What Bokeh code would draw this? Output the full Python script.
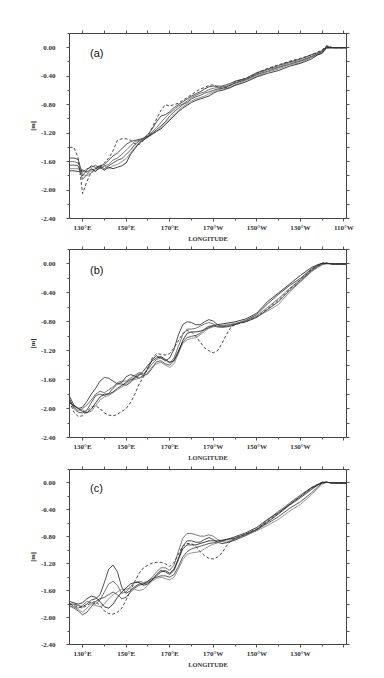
from bokeh.plotting import figure
from bokeh.layouts import column
from bokeh.models import FixedTicker, LinearAxis, Range1d, Label
from bokeh.embed import file_html
from bokeh.resources import INLINE

LON = [124, 126, 128, 130, 132, 134, 136, 138, 140, 142, 144, 146, 148, 150, 152, 154, 156, 158,
       160, 162, 164, 166, 168, 170, 172, 174, 176, 178, 180, 182, 184, 186, 188, 190, 192, 194,
       196, 198, 200, 205, 210, 215, 220, 225, 230, 235, 238, 240, 242, 245, 251]

X_MAJOR = [130, 150, 170, 190, 210, 230, 250]
X_MINOR = [140, 160, 180, 200, 220, 240]
X_LABELS_A = ["130°E", "150°E", "170°E", "170°W", "150°W", "130°W", "110°W"]
X_LABELS_BC = ["130°E", "150°E", "170°E", "170°W", "150°W", "130°W", ""]
Y_MAJOR = [0.0, -0.4, -0.8, -1.2, -1.6, -2.0, -2.4]
Y_LABELS = ["0.00", "-0.40", "-0.80", "-1.20", "-1.60", "-2.00", "-2.40"]
Y_MINOR = [0.2, -0.2, -0.6, -1.0, -1.4, -1.8, -2.2]

# ---------- panel (a) ----------
A1 = [-1.55, -1.55, -1.57, -1.80, -1.72, -1.66, -1.68, -1.66, -1.64, -1.58, -1.52, -1.48, -1.42, -1.36, -1.32, -1.30, -1.29, -1.27,
      -1.22, -1.14, -1.04, -0.96, -0.94, -0.90, -0.84, -0.80, -0.76, -0.72, -0.68, -0.65, -0.62, -0.58, -0.55, -0.54, -0.54, -0.54,
      -0.52, -0.50, -0.47, -0.43, -0.35, -0.30, -0.25, -0.20, -0.16, -0.10, -0.07, -0.04, 0.01, 0.0, 0.0]
A2 = [-1.60, -1.60, -1.62, -1.75, -1.70, -1.68, -1.65, -1.70, -1.66, -1.64, -1.58, -1.55, -1.50, -1.44, -1.38, -1.32, -1.30, -1.27,
      -1.24, -1.18, -1.12, -1.05, -0.98, -0.92, -0.87, -0.82, -0.79, -0.75, -0.70, -0.67, -0.64, -0.62, -0.59, -0.57, -0.56, -0.55,
      -0.54, -0.52, -0.49, -0.44, -0.37, -0.31, -0.27, -0.21, -0.18, -0.12, -0.08, -0.05, 0.0, 0.0, 0.0]
A3 = [-1.65, -1.65, -1.66, -1.85, -1.78, -1.72, -1.70, -1.66, -1.70, -1.66, -1.62, -1.58, -1.56, -1.50, -1.44, -1.36, -1.31, -1.28,
      -1.25, -1.20, -1.15, -1.10, -1.04, -0.96, -0.90, -0.85, -0.80, -0.77, -0.72, -0.69, -0.67, -0.64, -0.62, -0.60, -0.58, -0.57,
      -0.55, -0.53, -0.50, -0.45, -0.38, -0.33, -0.28, -0.23, -0.19, -0.13, -0.09, -0.06, 0.02, 0.0, 0.0]
A4 = [-1.70, -1.70, -1.70, -1.78, -1.80, -1.76, -1.72, -1.70, -1.66, -1.70, -1.66, -1.64, -1.60, -1.56, -1.48, -1.40, -1.33, -1.29,
      -1.26, -1.22, -1.18, -1.12, -1.06, -1.00, -0.94, -0.88, -0.83, -0.79, -0.75, -0.72, -0.70, -0.68, -0.65, -0.62, -0.59, -0.58,
      -0.57, -0.55, -0.52, -0.46, -0.40, -0.34, -0.30, -0.24, -0.21, -0.14, -0.10, -0.07, -0.01, 0.0, 0.0]
A5 = [-1.73, -1.73, -1.74, -1.72, -1.75, -1.70, -1.74, -1.68, -1.72, -1.68, -1.70, -1.68, -1.66, -1.62, -1.50, -1.42, -1.34, -1.30,
      -1.25, -1.21, -1.17, -1.14, -1.08, -1.02, -0.96, -0.90, -0.85, -0.81, -0.77, -0.74, -0.72, -0.70, -0.68, -0.64, -0.61, -0.60,
      -0.58, -0.56, -0.53, -0.48, -0.41, -0.36, -0.32, -0.26, -0.22, -0.16, -0.10, -0.08, 0.0, 0.0, 0.0]
AD = [-1.40, -1.40, -1.55, -2.05, -1.88, -1.75, -1.70, -1.68, -1.62, -1.55, -1.45, -1.30, -1.28, -1.28, -1.30, -1.35, -1.36, -1.30,
      -1.24, -1.12, -1.00, -0.88, -0.80, -0.82, -0.80, -0.78, -0.74, -0.70, -0.66, -0.62, -0.58, -0.56, -0.53, -0.52, -0.55, -0.57,
      -0.56, -0.52, -0.48, -0.43, -0.36, -0.29, -0.24, -0.19, -0.15, -0.10, -0.06, -0.03, 0.03, 0.0, 0.0]

# ---------- panel (b) ----------
B1 = [-1.83, -1.95, -2.00, -1.98, -1.90, -1.80, -1.72, -1.62, -1.57, -1.58, -1.62, -1.66, -1.64, -1.56, -1.53, -1.55, -1.58, -1.54,
      -1.44, -1.32, -1.27, -1.30, -1.34, -1.30, -1.18, -0.98, -0.84, -0.80, -0.81, -0.84, -0.84, -0.80, -0.77, -0.79, -0.84, -0.86,
      -0.87, -0.86, -0.84, -0.78, -0.70, -0.55, -0.42, -0.30, -0.20, -0.07, -0.02, 0.01, 0.01, 0.0, 0.0]
B2 = [-1.86, -1.98, -2.03, -2.00, -1.95, -1.88, -1.80, -1.76, -1.78, -1.74, -1.70, -1.64, -1.62, -1.62, -1.58, -1.54, -1.50, -1.52,
      -1.46, -1.38, -1.32, -1.30, -1.33, -1.37, -1.30, -1.14, -0.98, -0.90, -0.90, -0.89, -0.86, -0.83, -0.81, -0.83, -0.87, -0.88,
      -0.87, -0.85, -0.83, -0.79, -0.72, -0.60, -0.48, -0.34, -0.22, -0.09, -0.03, 0.0, 0.01, 0.0, 0.0]
B3 = [-1.88, -2.00, -2.05, -2.06, -2.02, -1.92, -1.82, -1.80, -1.82, -1.79, -1.72, -1.66, -1.66, -1.68, -1.64, -1.56, -1.52, -1.54,
      -1.52, -1.44, -1.35, -1.34, -1.38, -1.40, -1.33, -1.20, -1.08, -1.02, -1.00, -0.99, -0.96, -0.90, -0.86, -0.86, -0.87, -0.86,
      -0.85, -0.84, -0.83, -0.80, -0.74, -0.63, -0.52, -0.37, -0.24, -0.10, -0.04, -0.01, 0.01, 0.0, 0.0]
B4 = [-1.90, -1.97, -1.99, -2.02, -2.05, -2.04, -1.96, -1.88, -1.84, -1.82, -1.78, -1.74, -1.70, -1.66, -1.62, -1.60, -1.58, -1.56,
      -1.50, -1.42, -1.38, -1.36, -1.40, -1.43, -1.38, -1.24, -1.10, -1.05, -1.03, -1.02, -0.98, -0.93, -0.89, -0.87, -0.86, -0.85,
      -0.84, -0.83, -0.82, -0.78, -0.73, -0.65, -0.56, -0.39, -0.25, -0.11, -0.05, -0.01, 0.0, 0.0, 0.0]
B5 = [-1.92, -1.96, -2.00, -2.04, -2.06, -2.01, -1.92, -1.84, -1.80, -1.80, -1.77, -1.72, -1.68, -1.64, -1.60, -1.58, -1.54, -1.48,
      -1.40, -1.34, -1.30, -1.28, -1.32, -1.36, -1.34, -1.22, -1.06, -0.96, -0.94, -0.94, -0.93, -0.91, -0.88, -0.85, -0.84, -0.83,
      -0.82, -0.81, -0.80, -0.76, -0.68, -0.52, -0.40, -0.28, -0.16, -0.05, -0.01, 0.01, 0.01, 0.0, 0.0]
BD = [-1.90, -2.05, -2.11, -2.10, -2.04, -1.98, -1.96, -2.00, -2.06, -2.09, -2.10, -2.08, -2.04, -2.00, -1.92, -1.80, -1.66, -1.56,
      -1.44, -1.30, -1.24, -1.25, -1.26, -1.24, -1.16, -1.06, -0.96, -0.92, -0.94, -1.00, -1.08, -1.16, -1.20, -1.23, -1.20, -1.10,
      -0.98, -0.88, -0.84, -0.80, -0.73, -0.62, -0.50, -0.35, -0.22, -0.08, -0.02, 0.01, 0.01, 0.0, 0.0]

# ---------- panel (c) ----------
C1 = [-1.80, -1.80, -1.82, -1.84, -1.80, -1.74, -1.72, -1.66, -1.48, -1.28, -1.22, -1.32, -1.55, -1.64, -1.60, -1.54, -1.50, -1.50,
      -1.48, -1.44, -1.38, -1.32, -1.30, -1.34, -1.28, -1.12, -0.94, -0.86, -0.86, -0.88, -0.88, -0.84, -0.81, -0.84, -0.88, -0.90,
      -0.89, -0.87, -0.85, -0.78, -0.70, -0.58, -0.46, -0.33, -0.22, -0.10, -0.03, 0.01, 0.01, 0.0, 0.0]
C2 = [-1.78, -1.84, -1.86, -1.82, -1.76, -1.78, -1.80, -1.74, -1.62, -1.50, -1.46, -1.52, -1.64, -1.62, -1.54, -1.48, -1.46, -1.48,
      -1.46, -1.40, -1.32, -1.26, -1.26, -1.30, -1.22, -1.02, -0.82, -0.75, -0.75, -0.77, -0.79, -0.79, -0.77, -0.79, -0.84, -0.87,
      -0.88, -0.86, -0.84, -0.77, -0.69, -0.55, -0.42, -0.30, -0.18, -0.07, -0.02, 0.01, 0.01, 0.0, 0.0]
C3 = [-1.82, -1.86, -1.90, -1.96, -1.92, -1.84, -1.76, -1.72, -1.70, -1.66, -1.62, -1.66, -1.72, -1.70, -1.62, -1.56, -1.52, -1.50,
      -1.46, -1.42, -1.40, -1.38, -1.38, -1.40, -1.36, -1.24, -1.10, -1.02, -0.98, -0.96, -0.94, -0.92, -0.90, -0.89, -0.88, -0.86,
      -0.84, -0.83, -0.82, -0.76, -0.69, -0.60, -0.50, -0.38, -0.28, -0.15, -0.06, 0.0, 0.01, 0.0, 0.0]
C4 = [-1.84, -1.84, -1.88, -1.92, -1.86, -1.80, -1.82, -1.84, -1.80, -1.72, -1.66, -1.62, -1.58, -1.58, -1.56, -1.58, -1.60, -1.58,
      -1.52, -1.46, -1.42, -1.40, -1.42, -1.44, -1.40, -1.28, -1.14, -1.06, -1.04, -1.03, -1.02, -0.98, -0.94, -0.91, -0.89, -0.87,
      -0.85, -0.84, -0.83, -0.78, -0.71, -0.63, -0.54, -0.42, -0.32, -0.18, -0.08, -0.02, 0.01, 0.0, 0.0]
C5 = [-1.76, -1.78, -1.80, -1.78, -1.72, -1.68, -1.70, -1.76, -1.84, -1.86, -1.80, -1.70, -1.62, -1.56, -1.50, -1.48, -1.48, -1.52,
      -1.50, -1.44, -1.36, -1.30, -1.32, -1.36, -1.30, -1.14, -0.98, -0.92, -0.92, -0.92, -0.90, -0.88, -0.86, -0.86, -0.86, -0.85,
      -0.84, -0.82, -0.80, -0.74, -0.66, -0.54, -0.44, -0.32, -0.20, -0.08, -0.03, 0.0, 0.01, 0.0, 0.0]
CD = [-1.80, -1.82, -1.84, -1.86, -1.82, -1.78, -1.76, -1.82, -1.90, -1.94, -1.95, -1.92, -1.86, -1.74, -1.60, -1.46, -1.34, -1.26,
      -1.22, -1.19, -1.18, -1.18, -1.20, -1.24, -1.18, -1.06, -0.94, -0.90, -0.90, -0.94, -1.02, -1.08, -1.12, -1.13, -1.10, -1.04,
      -0.94, -0.86, -0.82, -0.76, -0.68, -0.57, -0.45, -0.32, -0.20, -0.07, -0.02, 0.01, 0.01, 0.0, 0.0]

PANELS = [
    ("(a)", [A1, A2, A3, A4, A5], AD, X_LABELS_A),
    ("(b)", [B1, B2, B3, B4, B5], BD, X_LABELS_BC),
    ("(c)", [C1, C2, C3, C4, C5], CD, X_LABELS_BC),
]
SOLID_COLORS = ["#222222", "#555555", "#333333", "#777777", "#111111"]

FONT = "Liberation Serif"
# border_top, frame_height, border_bottom
GEOM = [(33, 186, 25), (5, 188, 27), (5, 181, 20)]

figs = []
for (tag, solids, dashed, xlabels), (bt, fh, bb) in zip(PANELS, GEOM):
    p = figure(width=376, height=bt + fh + bb, output_backend="svg", toolbar_location=None,
               x_range=Range1d(124, 251.2), y_range=Range1d(-2.4, 0.2),
               min_border_left=69, min_border_right=30, min_border_top=bt, min_border_bottom=bb,
               x_axis_label="LONGITUDE", y_axis_label="[m]")
    p.grid.visible = False
    p.outline_line_color = "#444444"
    p.outline_line_width = 1
    p.background_fill_color = "white"
    p.border_fill_color = "white"

    xa = p.xaxis[0]
    xa.ticker = FixedTicker(ticks=X_MAJOR, minor_ticks=X_MINOR)
    xa.major_label_overrides = {t: l for t, l in zip(X_MAJOR, xlabels)}
    ya = p.yaxis[0]
    ya.ticker = FixedTicker(ticks=Y_MAJOR, minor_ticks=Y_MINOR)
    ya.major_label_overrides = {t: l for t, l in zip(Y_MAJOR, Y_LABELS)}
    for ax in (xa, ya):
        ax.axis_line_color = None
        ax.major_tick_in = 0
        ax.major_tick_out = 3
        ax.minor_tick_in = 0
        ax.minor_tick_out = 2
        ax.major_tick_line_color = "#555555"
        ax.minor_tick_line_color = "#555555"
        ax.major_label_text_font = FONT
        ax.major_label_text_font_size = "7px"
        ax.major_label_text_font_style = "bold"
        ax.major_label_text_color = "#333333"
        ax.axis_label_text_font = FONT
        ax.axis_label_text_font_size = "6.5px"
        ax.axis_label_text_font_style = "bold"
        ax.axis_label_text_color = "#333333"
    xa.major_label_standoff = 2
    xa.axis_label_standoff = 0
    ya.major_label_standoff = 11
    ya.axis_label_standoff = 2

    top_ticks = X_MAJOR + X_MINOR
    right_ticks = Y_MAJOR + Y_MINOR
    top = LinearAxis(ticker=FixedTicker(ticks=top_ticks, minor_ticks=[]),
                     major_label_overrides={t: "" for t in top_ticks})
    right = LinearAxis(ticker=FixedTicker(ticks=right_ticks, minor_ticks=[]),
                       major_label_overrides={t: "" for t in right_ticks})
    for ax in (top, right):
        ax.axis_line_color = None
        ax.major_tick_in = 0
        ax.major_tick_out = 3
        ax.minor_tick_out = 0
        ax.major_tick_line_color = "#555555"
        ax.major_label_text_font_size = "6px"
        ax.major_label_standoff = 0
    p.add_layout(top, "above")
    p.add_layout(right, "right")

    for s, c in zip(solids, SOLID_COLORS):
        p.line(LON, s, line_color=c, line_width=0.8)
    p.line(LON, dashed, line_color="#333333", line_width=0.9, line_dash="3 2")

    p.add_layout(Label(x=133.4, y=-0.08, text=tag, text_font="Liberation Sans",
                       text_font_size="11px", text_baseline="middle", text_color="#111111"))
    figs.append(p)

layout = column(*figs, spacing=0)
open("out.html", "w").write(file_html(layout, INLINE))
